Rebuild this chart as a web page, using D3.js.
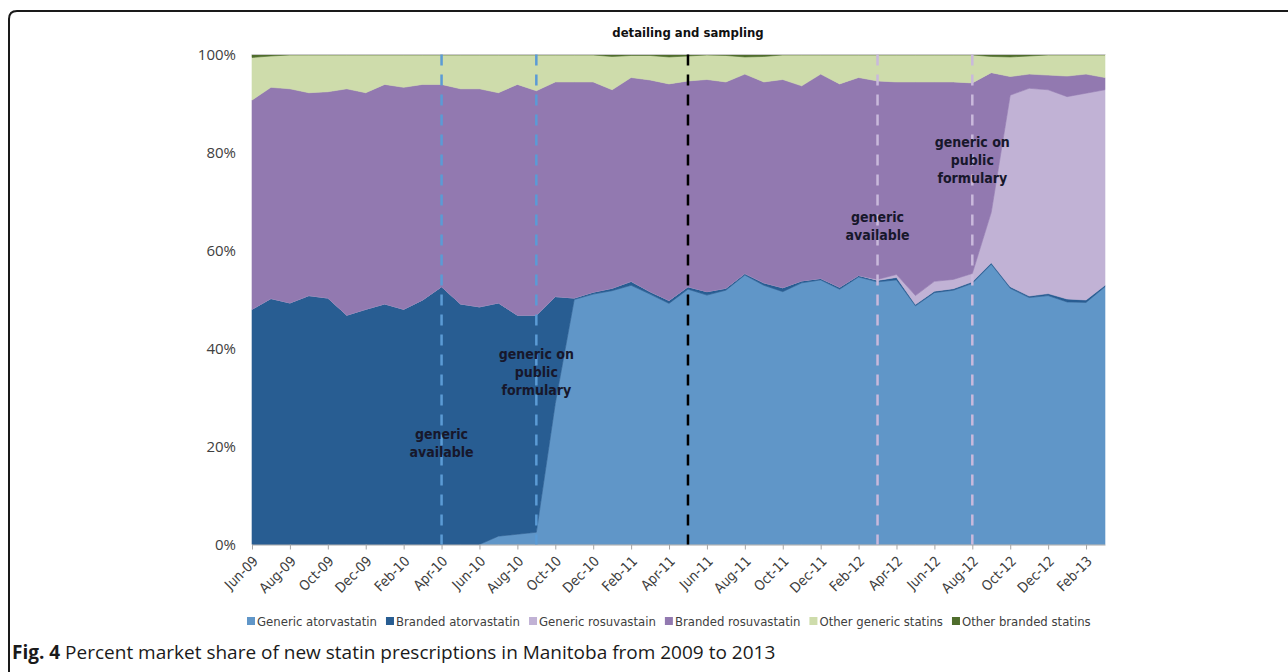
<!DOCTYPE html>
<html><head><meta charset="utf-8">
<script src="https://cdn.jsdelivr.net/npm/d3@7"></script>
<style>
body{margin:0;background:#fff;}
svg{display:block;}
.narrow{font-family:"Liberation Sans Narrow","Arial Narrow","DejaVu Sans Condensed","Roboto Condensed","Open Sans",sans-serif;}
</style></head><body>
<svg id="chart" width="1288" height="672"></svg>
<script>
// ---------- DATA ----------
const months = ["Jun-09","Jul-09","Aug-09","Sep-09","Oct-09","Nov-09","Dec-09",
 "Jan-10","Feb-10","Mar-10","Apr-10","May-10","Jun-10","Jul-10","Aug-10","Sep-10","Oct-10","Nov-10","Dec-10",
 "Jan-11","Feb-11","Mar-11","Apr-11","May-11","Jun-11","Jul-11","Aug-11","Sep-11","Oct-11","Nov-11","Dec-11",
 "Jan-12","Feb-12","Mar-12","Apr-12","May-12","Jun-12","Jul-12","Aug-12","Sep-12","Oct-12","Nov-12","Dec-12",
 "Jan-13","Feb-13","Mar-13"];
const tickLabels = ["Jun-09","Aug-09","Oct-09","Dec-09","Feb-10","Apr-10","Jun-10","Aug-10","Oct-10","Dec-10",
 "Feb-11","Apr-11","Jun-11","Aug-11","Oct-11","Dec-11","Feb-12","Apr-12","Jun-12","Aug-12","Oct-12","Dec-12","Feb-13"];
const yTicks = [0,20,40,60,80,100];
const seriesNames = ["Generic atorvastatin","Branded atorvastatin","Generic rosuvastain","Branded rosuvastatin","Other generic statins","Other branded statins"];
const genericAtorvastatin = [0,0,0,0,0,0,0,0,0,0,0,0,0,1.7,2.1,2.5,28.8,50.0,51.1,51.8,52.9,51.1,49.2,52.1,50.9,51.9,55.0,52.9,51.6,53.4,54.0,52.1,54.6,53.6,54.0,48.7,51.4,51.9,53.3,57.2,52.3,50.4,50.8,49.5,49.4,52.6];
const brandedAtorvastatin = [48.0,50.2,49.3,50.8,50.3,46.8,48.0,49.1,48.0,49.9,52.6,49.1,48.5,47.6,44.7,44.3,21.8,0.3,0.4,0.5,0.8,0.5,0.6,0.5,0.7,0.4,0.3,0.5,0.8,0.4,0.3,0.4,0.3,0.3,0.5,0.3,0.3,0.3,0.3,0.3,0.3,0.3,0.4,0.6,0.5,0.3];
const genericRosuvastatin = [0,0,0,0,0,0,0,0,0,0,0,0,0,0,0,0,0,0,0,0,0,0,0,0,0,0,0,0,0,0,0,0,0,0.2,0.6,1.8,2.0,1.9,1.7,10.3,39.1,42.4,41.6,41.3,42.2,39.9];
const brandedRosuvastatin = [42.7,43.1,43.7,41.4,42.1,46.2,44.2,44.8,45.3,44.0,41.3,43.9,44.5,42.9,47.1,45.8,43.8,44.1,42.9,40.5,41.6,43.2,44.2,42.0,43.3,42.1,40.7,41.0,42.5,39.8,41.7,41.5,40.4,40.5,39.3,43.6,40.7,40.3,38.9,28.5,3.8,2.9,3.0,4.2,3.9,2.5];
const otherGeneric = [8.7,6.4,6.9,7.7,7.5,6.9,7.7,6.0,6.6,6.0,6.0,6.9,6.9,7.7,6.0,7.3,5.5,5.5,5.5,6.8,4.5,5.0,5.5,5.1,5.0,5.4,3.5,5.2,5.0,6.3,3.9,5.9,4.6,5.3,5.5,5.5,5.5,5.5,5.7,3.3,4.0,3.7,4.1,4.3,3.9,4.6];
const otherBranded = [0.6,0.3,0.1,0.1,0.1,0.1,0.1,0.1,0.1,0.1,0.1,0.1,0.1,0.1,0.1,0.1,0.1,0.1,0.1,0.4,0.2,0.2,0.5,0.3,0.1,0.2,0.5,0.4,0.1,0.1,0.1,0.1,0.1,0.1,0.1,0.1,0.1,0.1,0.1,0.4,0.5,0.3,0.1,0.1,0.1,0.1];
const eventMonths = ["Apr-10","Sep-10","May-11","Mar-12","Aug-12"];
const eventTitle = "detailing and sampling";
const annotationMonths = ["Apr-10","Sep-10","Mar-12","Aug-12"];
const annotationTexts = [["generic","available"],["generic on","public","formulary"],["generic","available"],["generic on","public","formulary"]];
const captionBold = "Fig. 4";
const captionText = " Percent market share of new statin prescriptions in Manitoba from 2009 to 2013";

// ---------- STYLE ----------
const colors = ["#6096c8","#285d92","#c1b2d5","#9279b0","#cedcab","#4f6d2c"];
const eventColors = ["#5b9bd5","#5b9bd5","#000000","#c9b9dc","#c9b9dc"];
const annotationY = [21.5, 37.8, 65.9, 81.1]; // baseline of first line, in % units

const svg = d3.select("#chart");
const x = d3.scalePoint().domain(months).range([252, 1105]);
const y = d3.scaleLinear().domain([0, 100]).range([544.5, 54.5]);

const rows = months.map((m, i) => ({
  month: m,
  s0: genericAtorvastatin[i], s1: brandedAtorvastatin[i], s2: genericRosuvastatin[i],
  s3: brandedRosuvastatin[i], s4: otherGeneric[i], s5: otherBranded[i]
}));
const keys = ["s0","s1","s2","s3","s4","s5"];
const stacked = d3.stack().keys(keys)(rows);

// frame
svg.append("path").attr("d","M9,672 V19 Q9,11 17,11 H1288")
  .attr("fill","none").attr("stroke","#1a1a1a").attr("stroke-width",2);

const area = d3.area().x(d => x(d.data.month)).y0(d => y(d[0])).y1(d => y(d[1]));
svg.append("g").selectAll("path").data(stacked).join("path")
  .attr("d", area).attr("fill", (d, i) => colors[i])
  .attr("stroke", (d, i) => colors[i]).attr("stroke-width", 0.6);

// top border line
svg.append("line").attr("x1", x(months[0])).attr("x2", x(months[months.length-1]))
  .attr("y1", y(100)).attr("y2", y(100)).attr("stroke", "#c8c8c8").attr("stroke-width", 1);

// x axis
const xAxis = d3.axisBottom(x).tickValues(tickLabels).tickSize(5).tickSizeOuter(0);
const gx = svg.append("g").attr("transform", `translate(0,${y(0)})`).call(xAxis);
gx.select(".domain").attr("stroke", "#a6a6a6");
gx.selectAll(".tick line").attr("stroke", "#a6a6a6");
gx.selectAll(".tick text")
  .attr("class","narrow")
  .attr("font-size", 14).attr("fill", "#404040")
  .attr("text-anchor", "end")
  .attr("x", 0).attr("y", 0).attr("dy", "0.35em")
  .attr("transform", "translate(3,14) rotate(-45)");

// y axis
const yAxis = d3.axisLeft(y).tickValues(yTicks).tickSize(0).tickPadding(16).tickFormat(d => d + "%");
const gy = svg.append("g").attr("transform", `translate(${x(months[0])},0)`).call(yAxis);
gy.select(".domain").remove();
gy.selectAll(".tick text").attr("font-family","'Open Sans',sans-serif").attr("font-size", 15).attr("fill", "#404040");

// event lines
svg.append("g").selectAll("line").data(eventMonths).join("line")
  .attr("x1", d => x(d)).attr("x2", d => x(d))
  .attr("y1", y(100)).attr("y2", y(0))
  .attr("stroke", (d, i) => eventColors[i]).attr("stroke-width", 2.5)
  .attr("stroke-dasharray", "11,9");

// title
svg.append("text").attr("class","narrow").attr("x", x("May-11")).attr("y", 37)
  .attr("text-anchor","middle").attr("font-weight","bold").attr("font-size",13)
  .attr("fill","#111").text(eventTitle);

// annotations
const ag = svg.append("g");
annotationMonths.forEach((m, i) => {
  const t = ag.append("text").attr("class","narrow").attr("text-anchor","middle")
    .attr("font-weight","bold").attr("font-size",14).attr("fill","#17172b");
  annotationTexts[i].forEach((line, j) => {
    t.append("tspan").attr("x", x(m)).attr("y", y(annotationY[i]) + j * 18).text(line);
  });
});

// legend
const lg = svg.append("g");
let lx = 247;
seriesNames.forEach((name, i) => {
  lg.append("rect").attr("x", lx).attr("y", 617).attr("width", 8).attr("height", 8).attr("fill", colors[i]);
  const t = lg.append("text").attr("class","narrow").attr("x", lx + 10).attr("y", 626)
    .attr("font-size", 13).attr("fill", "#404040").text(name);
  lx += 10 + t.node().getComputedTextLength() + 9;
});

// caption
const cap = svg.append("text").attr("x", 12).attr("y", 659)
  .attr("font-family","'Open Sans',sans-serif").attr("font-size", 19).attr("fill","#1a1a1a");
cap.append("tspan").attr("font-weight","bold").text(captionBold);
cap.append("tspan").text(captionText);
</script>
</body></html>
